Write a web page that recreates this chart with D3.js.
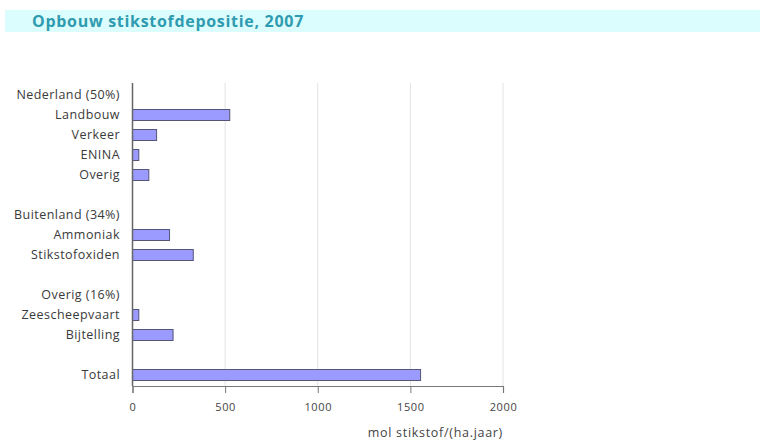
<!DOCTYPE html>
<html>
<head>
<meta charset="utf-8">
<title>Opbouw stikstofdepositie, 2007</title>
<style>
  body { margin: 0; background: #fff; }
  svg text { font-family: "Open Sans", Lato, sans-serif; }
  .cat text { font-size: 12.5px; fill: #3a3a3a; letter-spacing: 0.45px; }
  .tick text { font-size: 11px; fill: #444; letter-spacing: 0.6px; }
</style>
</head>
<body>
<svg width="760" height="441"></svg>
<script src="https://d3js.org/d3.v7.min.js"></script>
<script>
// rows from top to bottom; null value = heading or blank row
var categories = ["Nederland (50%)", "Landbouw", "Verkeer", "ENINA", "Overig", "",
                  "Buitenland (34%)", "Ammoniak", "Stikstofoxiden", "",
                  "Overig (16%)", "Zeescheepvaart", "Bijtelling", "", "Totaal"];
var values = [null, 525, 130, 34, 88, null, null, 200, 328, null, null, 34, 219, null, 1555];
var tickValues = [0, 500, 1000, 1500, 2000];

var rows = categories.map(function(c, i) { return {key: i, label: c, value: values[i]}; });

var svg = d3.select("svg");

// title band
svg.append("rect").attr("x", 5).attr("y", 10).attr("width", 755).attr("height", 22)
  .attr("fill", "#dcfdfd");
svg.append("text").attr("x", 32).attr("y", 26.5)
  .attr("font-size", "16px").attr("font-weight", "bold").attr("fill", "#2f9bb0")
  .attr("letter-spacing", "0.7px")
  .text("Opbouw stikstofdepositie, 2007");

var x = d3.scaleLinear().domain([0, 2000]).range([132.5, 503]);
var y = d3.scaleBand().domain(rows.map(function(d) { return d.key; }))
  .range([85, 385]).paddingInner(0.45).paddingOuter(0.225);

var plotTop = 83, plotBottom = 386;

// gridlines
svg.append("g").selectAll("line").data(tickValues.slice(1)).enter().append("line")
  .attr("x1", x).attr("x2", x).attr("y1", plotTop).attr("y2", plotBottom)
  .attr("stroke", "#e2e2e2").attr("stroke-width", 1);

// bars
svg.append("g").selectAll("rect").data(rows.filter(function(d) { return d.value != null; }))
  .enter().append("rect")
  .attr("x", x(0)).attr("y", function(d) { return y(d.key); })
  .attr("width", function(d) { return x(d.value) - x(0); })
  .attr("height", y.bandwidth())
  .attr("fill", "#9a9aff").attr("stroke", "#555577").attr("stroke-width", 1);

// category labels
svg.append("g").attr("class", "cat").selectAll("text").data(rows).enter().append("text")
  .attr("x", 120).attr("y", function(d) { return y(d.key) + y.bandwidth() / 2; })
  .attr("dy", "0.35em").attr("text-anchor", "end")
  .text(function(d) { return d.label; });

// vertical axis line
svg.append("line").attr("x1", x(0)).attr("x2", x(0)).attr("y1", plotTop).attr("y2", plotBottom)
  .attr("stroke", "#666").attr("stroke-width", 1.5);

// x axis
var xAxis = svg.append("g").attr("transform", "translate(0," + plotBottom + ")")
  .call(d3.axisBottom(x).tickValues(tickValues).tickSize(7).tickPadding(10)
    .tickFormat(d3.format("d")));
xAxis.select(".domain").attr("stroke", "#777").attr("stroke-width", 1.2);
xAxis.selectAll(".tick line").attr("stroke", "#777");
xAxis.selectAll(".tick text").style("font-family", "'Open Sans', sans-serif");

svg.append("text").attr("x", 503).attr("y", 437).attr("text-anchor", "end")
  .attr("font-size", "12.5px").attr("fill", "#444").attr("letter-spacing", "0.7px")
  .text("mol stikstof/(ha.jaar)");
</script>
</body>
</html>
